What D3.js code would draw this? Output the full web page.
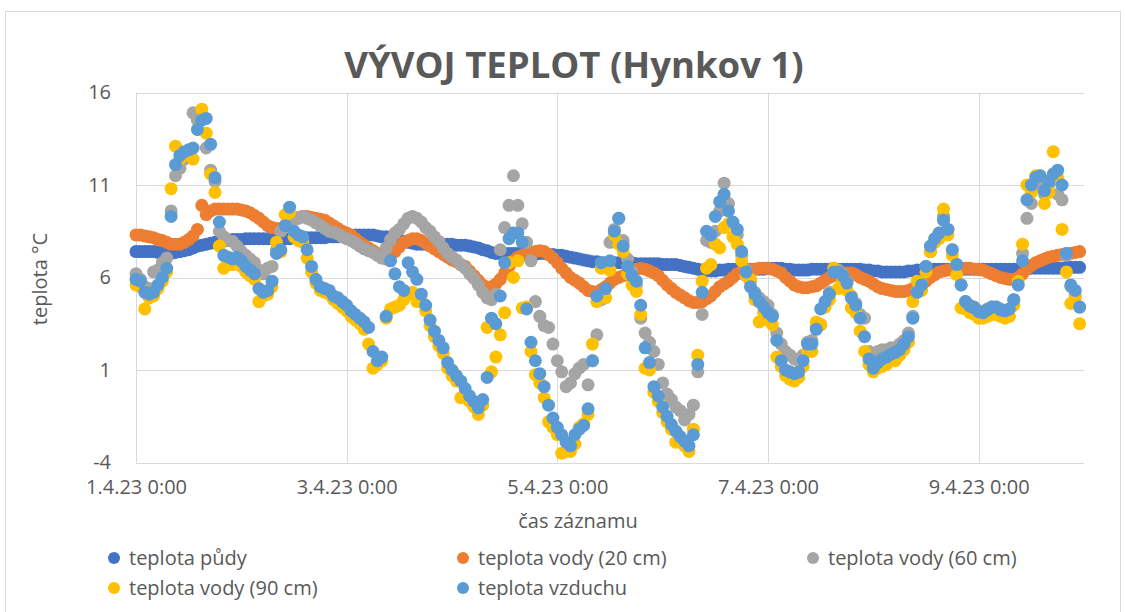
<!DOCTYPE html>
<html>
<head>
<meta charset="utf-8">
<script src="https://cdn.jsdelivr.net/npm/d3@7/dist/d3.min.js"></script>
<style>
  body { margin: 0; background: #fff; }
  svg text { font-family: "Open Sans", sans-serif; fill: #595959; }
</style>
</head>
<body>
<svg class="chart" width="1125" height="612"></svg>
<script>
// hourly readings from 1.4.23 0:00, one row per day
const startTime = new Date(2023, 3, 1, 0, 0);
const stepHours = 1;

const tickDays = [1, 3, 5, 7, 9];
const tickLabels = ["1.4.23 0:00", "3.4.23 0:00", "5.4.23 0:00", "7.4.23 0:00", "9.4.23 0:00"];
const yTicks = [-4, 1, 6, 11, 16];

const seriesNames = ["teplota půdy", "teplota vody (20 cm)", "teplota vody (60 cm)", "teplota vody (90 cm)", "teplota vzduchu"];

const soil = [
  7.4, 7.4, 7.4, 7.4, 7.4, 7.35, 7.35, 7.3, 7.3, 7.35, 7.4, 7.45, 7.5, 7.6, 7.7, 7.75, 7.8, 7.85, 7.9, 7.95, 8.0, 8.0, 8.05, 8.05,
  8.05, 8.1, 8.1, 8.1, 8.1, 8.1, 8.1, 8.1, 8.1, 8.1, 8.1, 8.1, 8.15, 8.15, 8.15, 8.15, 8.15, 8.15, 8.15, 8.15, 8.2, 8.2, 8.2, 8.2,
  8.2, 8.25, 8.3, 8.3, 8.3, 8.3, 8.3, 8.25, 8.2, 8.2, 8.15, 8.1, 8.05, 7.95, 7.9, 7.85, 7.8, 7.8, 7.8, 7.8, 7.8, 7.8, 7.8, 7.8,
  7.8, 7.75, 7.75, 7.75, 7.7, 7.65, 7.6, 7.5, 7.45, 7.35, 7.3, 7.3, 7.3, 7.3, 7.3, 7.3, 7.25, 7.25, 7.25, 7.25, 7.3, 7.3, 7.25, 7.25,
  7.2, 7.2, 7.15, 7.1, 7.05, 7.0, 6.95, 6.9, 6.85, 6.85, 6.8, 6.8, 6.8, 6.8, 6.8, 6.8, 6.8, 6.8, 6.75, 6.75, 6.75, 6.75, 6.75, 6.75,
  6.7, 6.7, 6.7, 6.7, 6.65, 6.6, 6.55, 6.5, 6.45, 6.4, 6.35, 6.35, 6.35, 6.4, 6.4, 6.45, 6.45, 6.45, 6.45, 6.45, 6.45, 6.45, 6.45, 6.45,
  6.5, 6.5, 6.5, 6.5, 6.45, 6.45, 6.4, 6.4, 6.4, 6.4, 6.45, 6.45, 6.45, 6.45, 6.45, 6.45, 6.45, 6.45, 6.45, 6.45, 6.45, 6.45, 6.4, 6.4,
  6.35, 6.35, 6.3, 6.3, 6.3, 6.3, 6.3, 6.3, 6.35, 6.35, 6.4, 6.4, 6.45, 6.45, 6.45, 6.45, 6.45, 6.45, 6.45, 6.45, 6.45, 6.45, 6.45, 6.45,
  6.45, 6.45, 6.45, 6.45, 6.45, 6.45, 6.45, 6.45, 6.45, 6.45, 6.5, 6.5, 6.5, 6.5, 6.5, 6.5, 6.5, 6.5, 6.5, 6.5, 6.55, 6.55, 6.55, 6.55
];

const water20 = [
  8.3, 8.3, 8.25, 8.2, 8.15, 8.05, 8.0, 7.9, 7.8, 7.8, 7.8, 7.9, 8.05, 8.25, 8.6, 9.9, 9.4, 9.6, 9.7, 9.7, 9.7, 9.7, 9.7, 9.7,
  9.65, 9.6, 9.5, 9.35, 9.2, 9.0, 8.8, 8.7, 8.65, 8.65, 8.8, 9.0, 9.15, 9.25, 9.3, 9.3, 9.25, 9.2, 9.15, 9.1, 8.95, 8.8, 8.65, 8.5,
  8.4, 8.3, 8.1, 7.9, 7.75, 7.6, 7.45, 7.3, 7.15, 7.0, 7.15, 7.4, 7.65, 7.9, 8.0, 8.1, 8.1, 8.0, 7.85, 7.7, 7.55, 7.4, 7.25, 7.1,
  6.95, 6.85, 6.7, 6.6, 6.35, 6.1, 5.85, 5.6, 5.45, 5.5, 5.65, 5.9, 6.25, 6.6, 6.9, 7.1, 7.2, 7.3, 7.35, 7.4, 7.45, 7.4, 7.25, 7.05,
  6.8, 6.5, 6.25, 6.0, 5.85, 5.7, 5.5, 5.3, 5.25, 5.2, 5.35, 5.5, 5.7, 5.9, 6.0, 6.1, 6.25, 6.4, 6.45, 6.5, 6.45, 6.35, 6.25, 6.1,
  5.85, 5.6, 5.4, 5.2, 5.05, 4.9, 4.75, 4.65, 4.65, 4.7, 4.85, 5.0, 5.25, 5.5, 5.65, 5.8, 6.0, 6.2, 6.3, 6.4, 6.45, 6.45, 6.5, 6.5,
  6.5, 6.45, 6.35, 6.25, 6.0, 5.8, 5.6, 5.5, 5.45, 5.45, 5.5, 5.55, 5.7, 5.85, 6.0, 6.1, 6.2, 6.25, 6.25, 6.25, 6.15, 6.0, 5.9, 5.8,
  5.65, 5.5, 5.4, 5.35, 5.3, 5.25, 5.25, 5.25, 5.3, 5.4, 5.5, 5.6, 5.8, 6.0, 6.15, 6.3, 6.35, 6.4, 6.45, 6.5, 6.5, 6.5, 6.5, 6.45,
  6.45, 6.4, 6.3, 6.2, 6.1, 6.0, 5.95, 5.9, 5.9, 6.0, 6.2, 6.45, 6.65, 6.8, 6.9, 7.0, 7.1, 7.15, 7.2, 7.25, 7.3, 7.3, 7.35, 7.4
];

const water60 = [
  6.2, 5.9, 5.5, 5.4, 6.3, 6.4, 6.8, 7.05, 9.6, 11.5, 11.9, 12.4, 12.7, 14.9, 14.5, 14.8, 13.0, 11.8, 11.2, 8.5, 8.2, 8.0, 7.95, 7.7,
  7.4, 7.2, 7.0, 6.8, 6.4, 6.2, 6.5, 6.6, 7.5, 8.5, 8.8, 9.0, 9.1, 9.2, 9.3, 9.2, 9.1, 8.95, 8.8, 8.65, 8.5, 8.45, 8.35, 8.2,
  8.1, 8.0, 7.85, 7.7, 7.55, 7.45, 7.35, 7.2, 7.05, 7.6, 8.05, 8.4, 8.6, 8.9, 9.2, 9.3, 9.2, 9.0, 8.7, 8.5, 8.2, 7.95, 7.6, 7.3,
  7.1, 6.95, 6.7, 6.5, 6.2, 5.95, 5.6, 5.2, 4.9, 4.8, 5.1, 7.5, 8.7, 9.9, 11.5, 9.9, 8.9, 7.9, 6.9, 4.7, 3.9, 3.4, 3.3, 2.4,
  1.5, 0.9, 0.1, 0.3, 0.8, 1.1, 1.3, 0.2, 1.5, 2.9, 4.8, 6.7, 7.9, 8.6, 9.2, 8.0, 7.0, 6.3, 5.6, 3.8, 3.0, 2.5, 2.0, 1.3,
  0.3, -0.3, -0.6, -1.0, -1.2, -1.7, -1.4, -0.9, 0.9, 4.0, 8.0, 7.9, 8.5, 9.6, 11.1, 10.0, 8.9, 8.3, 7.2, 6.4, 5.8, 5.2, 4.9, 4.7,
  4.5, 4.0, 3.0, 2.4, 2.0, 1.8, 1.6, 1.5, 1.8, 2.5, 2.6, 3.3, 3.45, 4.6, 5.2, 6.5, 6.4, 6.2, 5.8, 5.0, 4.6, 4.0, 3.8, 2.0,
  1.9, 2.0, 2.1, 2.1, 2.2, 2.2, 2.4, 2.6, 3.0, 3.9, 5.3, 5.7, 6.6, 7.4, 8.1, 8.4, 9.3, 8.6, 7.5, 6.7, 5.6, 4.7, 4.5, 4.4,
  4.2, 4.15, 4.3, 4.4, 4.4, 4.3, 4.2, 4.3, 4.8, 5.6, 7.3, 9.2, 10.0, 10.9, 11.0, 10.5, 11.0, 11.3, 10.5, 10.2, 7.2, 5.5, 5.0, 4.4
];

const water90 = [
  5.6, 5.5, 4.3, 4.9, 5.0, 5.4, 5.8, 6.3, 10.8, 13.1, 12.4, 12.6, 12.7, 12.4, 14.0, 15.1, 13.8, 11.6, 10.6, 7.7, 6.5, 6.8, 6.7, 6.8,
  6.6, 6.3, 6.1, 5.9, 4.7, 5.0, 5.1, 5.5, 7.9, 7.4, 9.4, 9.5, 8.2, 8.0, 7.9, 7.05, 6.3, 5.7, 5.3, 5.2, 5.1, 4.8, 4.6, 4.4,
  4.2, 3.9, 3.7, 3.5, 3.2, 2.4, 1.1, 1.3, 1.5, 3.8, 4.3, 4.4, 4.5, 4.8, 5.1, 5.2, 4.7, 4.7, 4.2, 3.4, 2.8, 2.3, 1.9, 1.1,
  0.7, 0.4, -0.5, -0.3, -0.7, -1.0, -1.4, -0.9, 3.3, 0.9, 1.7, 2.9, 4.1, 6.8, 6.0, 6.9, 4.35, 4.4, 2.0, 0.75, 0.3, -0.5, -1.8, -2.1,
  -2.5, -3.5, -3.4, -3.4, -3.0, -2.1, -1.9, -1.4, 2.4, 4.7, 6.5, 4.9, 6.4, 8.3, 7.8, 7.4, 6.2, 5.6, 5.25, 4.0, 1.1, 1.0, -0.2, -0.7,
  -1.3, -1.8, -2.2, -2.9, -2.9, -3.1, -3.4, -2.2, 1.8, 5.8, 6.5, 6.7, 7.8, 7.6, 8.7, 8.9, 8.2, 7.8, 6.9, 6.1, 5.9, 4.8, 3.6, 4.1,
  3.7, 3.45, 1.7, 1.2, 0.7, 0.5, 0.4, 0.6, 1.2, 2.0, 2.0, 3.6, 3.45, 4.4, 4.8, 6.5, 5.4, 5.8, 5.3, 4.35, 4.1, 3.1, 2.0, 1.3,
  0.9, 1.1, 1.2, 1.3, 1.5, 1.5, 1.8, 2.1, 2.5, 4.7, 5.8, 5.3, 6.3, 7.4, 7.9, 8.1, 9.7, 8.3, 7.2, 6.15, 4.35, 4.3, 4.1, 4.0,
  3.8, 3.8, 3.9, 4.0, 4.0, 3.9, 3.8, 3.9, 4.5, 5.8, 7.8, 11.0, 10.6, 11.5, 11.5, 10.0, 10.6, 12.8, 11.4, 8.6, 6.3, 4.6, 4.9, 3.5
];

const air = [
  5.9, 5.8, 5.2, 5.1, 5.2, 5.6, 6.0, 6.5, 9.3, 12.1, 12.6, 12.8, 12.9, 13.0, 14.0, 14.5, 14.6, 13.2, 11.4, 9.0, 7.2, 7.1, 7.0, 7.1,
  6.9, 6.6, 6.4, 6.2, 5.4, 5.2, 5.3, 5.8, 7.3, 7.5, 8.8, 9.8, 8.5, 8.3, 8.2, 7.5, 6.6, 5.9, 5.5, 5.4, 5.3, 5.0, 4.9, 4.7,
  4.5, 4.2, 4.0, 3.8, 3.6, 3.3, 2.0, 1.5, 1.7, 3.9, 6.9, 6.2, 5.5, 5.3, 6.8, 6.3, 5.9, 5.1, 4.5, 3.7, 3.1, 2.6, 2.2, 1.4,
  1.0, 0.7, 0.4, 0.0, -0.4, -0.7, -1.05, -0.6, 0.6, 3.8, 3.5, 5.0, 6.8, 8.1, 8.4, 8.4, 7.9, 4.3, 2.5, 1.5, 0.8, 0.1, -0.9, -1.6,
  -2.1, -2.5, -2.9, -3.1, -2.5, -2.2, -2.0, -1.1, 1.5, 5.0, 6.8, 5.4, 6.9, 8.5, 9.2, 7.7, 6.6, 6.1, 5.8, 4.5, 2.2, 1.4, 0.1, -0.4,
  -1.0, -1.5, -1.95, -2.3, -2.6, -2.85, -3.1, -2.5, 1.3, 5.2, 8.5, 8.3, 9.3, 10.1, 10.5, 9.6, 9.0, 8.6, 7.4, 6.3, 5.5, 5.1, 4.7, 4.4,
  4.1, 3.9, 2.6, 1.5, 1.0, 0.9, 0.8, 0.9, 1.5, 2.4, 2.4, 3.2, 4.3, 4.7, 5.1, 6.3, 6.3, 6.1, 5.7, 4.9, 4.5, 3.8, 2.8, 1.6,
  1.1, 1.4, 1.6, 1.7, 1.85, 1.95, 2.1, 2.4, 2.8, 3.8, 5.2, 5.6, 6.6, 7.7, 8.1, 8.4, 9.1, 8.6, 7.5, 6.7, 5.6, 4.7, 4.45, 4.35,
  4.15, 4.1, 4.25, 4.4, 4.4, 4.25, 4.2, 4.3, 4.8, 5.6, 6.9, 10.2, 11.0, 11.4, 11.5, 10.7, 11.2, 11.6, 11.8, 11.0, 7.3, 5.6, 5.3, 4.4
];

const seriesValues = [soil, water20, water60, water90, air];
const colors = ["#4472C4", "#ED7D31", "#A5A5A5", "#FFC000", "#5B9BD5"];

const svg = d3.select(".chart");

// chart area border
svg.append("rect")
    .attr("x", 5.5).attr("y", 11.5)
    .attr("width", 1115).attr("height", 640)
    .attr("fill", "#fff")
    .attr("stroke", "#D9D9D9");

const plot = {left: 136, right: 1084, top: 92.5, bottom: 462.5};

const x = d3.scaleTime()
    .domain([new Date(2023, 3, 1), new Date(2023, 3, 10)])
    .range([plot.left, plot.right]);

const y = d3.scaleLinear()
    .domain([-4, 16])
    .range([plot.bottom, plot.top]);

const tickDates = tickDays.map(d => new Date(2023, 3, d));

// horizontal gridlines
svg.append("g")
    .selectAll("line")
    .data(yTicks)
    .enter().append("line")
    .attr("x1", plot.left).attr("x2", plot.right)
    .attr("y1", d => Math.round(y(d)) + 0.5)
    .attr("y2", d => Math.round(y(d)) + 0.5)
    .attr("stroke", "#D9D9D9");

// vertical gridlines
svg.append("g")
    .selectAll("line")
    .data(tickDates)
    .enter().append("line")
    .attr("x1", d => Math.round(x(d)) + 0.5)
    .attr("x2", d => Math.round(x(d)) + 0.5)
    .attr("y1", plot.top).attr("y2", plot.bottom)
    .attr("stroke", "#D9D9D9");

// y axis labels
const yAxis = svg.append("g")
    .attr("transform", `translate(${plot.left},0)`)
    .call(d3.axisLeft(y).tickValues(yTicks).tickSize(0).tickPadding(25)
        .tickFormat(d => String(d)));
yAxis.select(".domain").remove();
yAxis.selectAll("text")
    .style("font-size", "20px")
    .attr("fill", "#595959");

// x axis labels
const xAxis = svg.append("g")
    .attr("transform", `translate(0,${plot.bottom})`)
    .call(d3.axisBottom(x).tickValues(tickDates).tickSize(0).tickPadding(17)
        .tickFormat((d, i) => tickLabels[i]));
xAxis.select(".domain").remove();
xAxis.selectAll("text")
    .style("font-size", "20px")
    .attr("fill", "#595959");

// titles
svg.append("text")
    .attr("x", 574).attr("y", 78)
    .attr("text-anchor", "middle")
    .style("font-size", "36.5px")
    .style("font-weight", "bold")
    .text("VÝVOJ TEPLOT (Hynkov 1)");

svg.append("text")
    .attr("x", 578).attr("y", 528)
    .attr("text-anchor", "middle")
    .style("font-size", "20px")
    .text("čas záznamu");

svg.append("text")
    .attr("transform", "translate(47,279) rotate(-90)")
    .attr("text-anchor", "middle")
    .style("font-size", "20px")
    .text("teplota °C");

// points, series drawn in order so the air ends on top
const times = soil.map((_, i) => d3.timeHour.offset(startTime, i * stepHours));

seriesValues.forEach((values, s) => {
    svg.append("g")
        .selectAll("circle")
        .data(values)
        .enter().append("circle")
        .attr("cx", (d, i) => x(times[i]))
        .attr("cy", d => y(d))
        .attr("r", 6.5)
        .attr("fill", colors[s]);
});

// legend
const legendPos = [[114, 558], [463, 558], [813, 558], [114, 588], [463, 588]];
const legend = svg.append("g")
    .selectAll("g")
    .data(seriesNames)
    .enter().append("g")
    .attr("transform", (d, i) => `translate(${legendPos[i][0]},${legendPos[i][1]})`);

legend.append("circle")
    .attr("r", 6)
    .attr("fill", (d, i) => colors[i]);

legend.append("text")
    .attr("x", 15)
    .attr("dy", "0.35em")
    .style("font-size", "20px")
    .text(d => d);
</script>
</body>
</html>
